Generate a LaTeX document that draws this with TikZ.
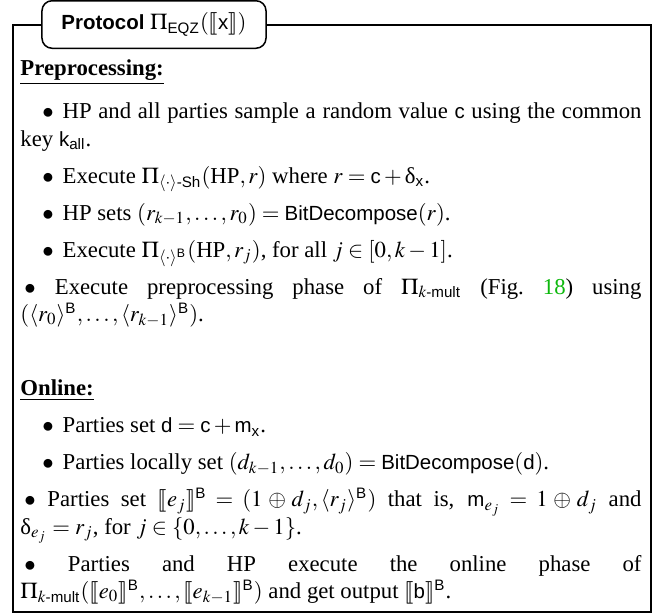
\documentclass[tikz,border=0pt]{standalone}
\usepackage{amsmath}
\usepackage{mathptmx}
\usepackage{stmaryrd}
\usepackage{fontspec}
\setmainfont{Liberation Serif}
\setsansfont[Scale=0.9]{Liberation Sans}

% sans-serif identifiers inside formulas
\newcommand{\tsf}[1]{\text{\normalfont\sffamily #1}}
% upright delta taken from the text font
\newcommand{\dlt}{\text{\normalfont δ}}
% bullets of the protocol steps (indented and flush variants)
\newcommand{\stepin}{\hspace*{8.8pt}$\bullet$\hspace{3.5pt}}
\newcommand{\stepflush}{\hspace*{1.6pt}$\bullet$ }
\definecolor{linkgreen}{rgb}{0.05,0.72,0.05}

\tikzset{
  frame/.style={line width=0.8pt, line join=miter},
  titlebox/.style={draw, line width=0.6pt, rounded corners=4pt, inner sep=0pt,
    minimum width=89.6pt, minimum height=19pt,
    font=\fontsize{9.1}{10}\selectfont},
  bodytext/.style={anchor=north west, inner sep=0pt, text width=248.4pt,
    align=justify, font=\fontsize{9.1}{10.9}\selectfont}
}

\begin{document}
\begin{tikzpicture}[x=0.4pt,y=-0.4pt]
  \useasboundingbox (0,0) rectangle (660,614);

  % heading tab
  \node[titlebox] (title) at (154,24.5)
    {\textbf{\sffamily Protocol} $\Pi_{\tsf{EQZ}}(\llbracket \tsf{x} \rrbracket)$};

  % outer frame, opened around the heading tab
  \coordinate (tl) at (13,24.5);
  \coordinate (bl) at (13,612);
  \coordinate (br) at (651,612);
  \coordinate (tr) at (651,24.5);
  \draw[frame] (title.west) -- (tl) -- (bl) -- (br) -- (tr) -- (title.east);

  % protocol steps
  \node[bodytext] (steps) at (20,59) {%
    \setlength{\parskip}{3.9pt}\setlength{\parindent}{0pt}%
    \lineskiplimit=-20pt\lineskip=0pt
    \underline{\textbf{Preprocessing:}}\par
    \vspace{2.6pt}
    \stepin HP and all parties sample a random value $\tsf{c}$ using the common\linebreak
    key $\tsf{k}_{\tsf{all}}$.\par
    \stepin Execute $\Pi_{\langle\cdot\rangle\tsf{-Sh}}(\text{HP}, r)$ where $r = \tsf{c} + \dlt_{\tsf{x}}$.\par
    \stepin HP sets $(r_{k-1},\ldots,r_0) = \tsf{BitDecompose}(r)$.\par
    \stepin Execute $\Pi_{\langle\cdot\rangle^{\tsf{B}}}(\text{HP}, r_j)$, for all $j \in [0,k-1]$.\par
    \stepflush Execute preprocessing phase of $\Pi_{k\tsf{-mult}}$ (Fig.~\textcolor{linkgreen}{18}) using\linebreak
    $(\langle r_0\rangle^{\tsf{B}},\ldots,\langle r_{k-1}\rangle^{\tsf{B}})$.\par
    \vspace{15pt}
    \underline{\textbf{Online:}}\par
    \stepin Parties set $\tsf{d} = \tsf{c} + \tsf{m}_{\tsf{x}}$.\par
    \stepin Parties locally set $(d_{k-1},\ldots,d_0) = \tsf{BitDecompose}(\tsf{d})$.\par
    \stepflush Parties set $\llbracket e_j\rrbracket^{\tsf{B}} = (1\oplus d_j, \langle r_j\rangle^{\tsf{B}})$ that is, $\tsf{m}_{e_j} = 1 \oplus d_j$ and\linebreak
    $\dlt_{e_j} = r_j$, for $j \in \{0,\ldots,k-1\}$.\par
    \stepflush Parties and HP execute the online phase of\linebreak
    $\Pi_{k\tsf{-mult}}(\llbracket e_0\rrbracket^{\tsf{B}},\ldots,\llbracket e_{k-1}\rrbracket^{\tsf{B}})$ and get output $\llbracket \tsf{b}\rrbracket^{\tsf{B}}$.\par
  };
\end{tikzpicture}
\end{document}
